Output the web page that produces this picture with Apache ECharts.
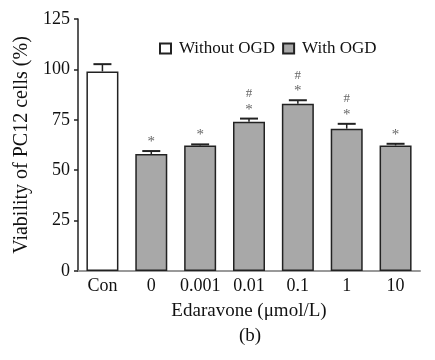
<!DOCTYPE html>
<html>
<head>
<meta charset="utf-8">
<script src="https://cdn.jsdelivr.net/npm/echarts@6/dist/echarts.min.js"></script>
<style>
  html, body { margin: 0; padding: 0; background: #fff; }
  #chart { width: 435px; height: 360px; }
</style>
</head>
<body>
<div id="chart"></div>
<script>
var categories = ['Con', '0', '0.001', '0.01', '0.1', '1', '10'];
var withoutOgd = [99, '-', '-', '-', '-', '-', '-'];
var withOgd = ['-', 58, 62.3, 74, 83, 70.6, 62.3];
var errors = [3.6, 1.5, 0.5, 1.6, 1.7, 2.4, 0.8];
var signs = ['', '*', '*', '#*', '#*', '#*', '*'];
var yTicks = [0, 25, 50, 75, 100, 125];

var font = "'Liberation Serif', 'Times New Roman', serif";
var errData = categories.map(function (c, i) {
    var v = withoutOgd[i] !== '-' ? withoutOgd[i] : withOgd[i];
    return [i, v, v + errors[i], signs[i]];
});

var myChart = echarts.init(document.getElementById('chart'));
var option = {
    backgroundColor: '#fff',
    animation: false,
    textStyle: { fontFamily: font },
    legend: {
        data: ['Without OGD', 'With OGD'],
        left: 154,
        top: 35,
        icon: 'rect',
        itemWidth: 11,
        itemHeight: 10,
        itemGap: 7,
        textStyle: { fontFamily: font, fontSize: 17, color: '#111', padding: [0, 0, 0, 3] }
    },
    grid: { left: 78, top: 19, width: 342, height: 252 },
    xAxis: {
        type: 'category',
        data: categories,
        axisLine: { lineStyle: { color: '#999', width: 2 } },
        axisTick: { show: false },
        axisLabel: { interval: 0, fontFamily: font, fontSize: 18, color: '#111', margin: 6 },
        name: 'Edaravone (\u03bcmol/L)',
        nameLocation: 'middle',
        nameGap: 31,
        nameTextStyle: { fontFamily: font, fontSize: 19, color: '#111' }
    },
    yAxis: {
        type: 'value',
        min: yTicks[0],
        max: yTicks[yTicks.length - 1],
        interval: 25,
        splitLine: { show: false },
        axisLine: { show: true, lineStyle: { color: '#222', width: 1.5 } },
        axisTick: { show: true, length: 4, lineStyle: { color: '#222', width: 1.5 } },
        axisLabel: { fontFamily: font, fontSize: 18, color: '#111', margin: 8 },
        name: 'Viability of PC12 cells (%)',
        nameLocation: 'middle',
        nameGap: 44,
        nameTextStyle: { fontFamily: font, fontSize: 20, color: '#111' }
    },
    series: [
        {
            name: 'Without OGD',
            type: 'bar',
            barWidth: 32,
            barGap: '-100%',
            itemStyle: { color: '#fff', borderColor: '#222', borderWidth: 1.5 },
            data: withoutOgd
        },
        {
            name: 'With OGD',
            type: 'bar',
            barWidth: 32,
            barGap: '-100%',
            itemStyle: { color: '#a8a8a8', borderColor: '#222', borderWidth: 1.5 },
            data: withOgd
        },
        {
            name: 'err',
            type: 'custom',
            z: 5,
            data: errData,
            renderItem: function (params, api) {
                var top = api.coord([api.value(0), api.value(2)]);
                var base = api.coord([api.value(0), api.value(1)]);
                var s = api.value(3);
                var kids = [
                    { type: 'line', shape: { x1: top[0], y1: base[1], x2: top[0], y2: top[1] },
                      style: { stroke: '#222', lineWidth: 1.5 } },
                    { type: 'line', shape: { x1: top[0] - 9, y1: top[1], x2: top[0] + 9, y2: top[1] },
                      style: { stroke: '#222', lineWidth: 2 } }
                ];
                if (s.indexOf('*') >= 0) {
                    kids.push({ type: 'text', x: top[0], y: top[1] - 9,
                        style: { text: '*', fontSize: 15, fontFamily: font, fill: '#666',
                                 align: 'center', verticalAlign: 'middle' } });
                }
                if (s.indexOf('#') >= 0) {
                    kids.push({ type: 'text', x: top[0], y: top[1] - 25,
                        style: { text: '#', fontSize: 13, fontFamily: font, fill: '#666',
                                 align: 'center', verticalAlign: 'middle' } });
                }
                return { type: 'group', children: kids };
            }
        }
    ],
    graphic: [
        { type: 'text', x: 250, y: 327,
          style: { text: '(b)', fontSize: 19, fontFamily: font, fill: '#111', align: 'center' } }
    ]
};
myChart.setOption(option);
</script>
</body>
</html>
